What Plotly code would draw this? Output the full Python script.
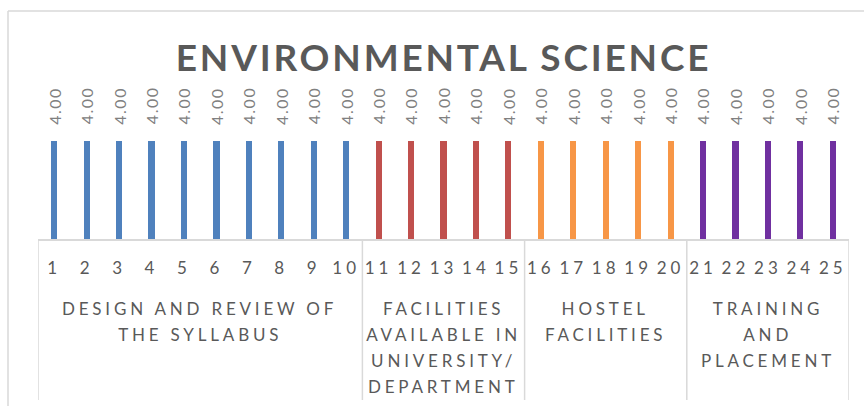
import plotly.graph_objects as go

# ---------------- data ----------------
tick_labels = ["1", "2", "3", "4", "5", "6", "7", "8", "9", "10",
               "11", "12", "13", "14", "15", "16", "17", "18", "19", "20",
               "21", "22", "23", "24", "25"]
values = [4.00, 4.00, 4.00, 4.00, 4.00, 4.00, 4.00, 4.00, 4.00, 4.00,
          4.00, 4.00, 4.00, 4.00, 4.00, 4.00, 4.00, 4.00, 4.00, 4.00,
          4.00, 4.00, 4.00, 4.00, 4.00]
group_names = [
    ["DESIGN AND REVIEW OF", "THE SYLLABUS"],
    ["FACILITIES", "AVAILABLE IN", "UNIVERSITY/", "DEPARTMENT"],
    ["HOSTEL", "FACILITIES"],
    ["TRAINING", "AND", "PLACEMENT"],
]
group_sizes = [10, 5, 5, 5]
group_colors = ["#4F81BD", "#C0504D", "#F79646", "#7030A0"]
title_text = "ENVIRONMENTAL SCIENCE"

# ---------------- styling ----------------
FONT = "Lato, 'Open Sans', sans-serif"
GRID = "#D9D9D9"
W, H = 864, 406
ML, MR, MT, MB = 38, 15, 116, 167
plot_h = H - MT - MB

x_pos = list(range(1, len(values) + 1))
bar_colors = []
for c, n in zip(group_colors, group_sizes):
    bar_colors += [c] * n

fig = go.Figure()
fig.add_trace(go.Bar(
    x=x_pos, y=values, width=0.19,
    marker=dict(color=bar_colors, line=dict(width=0)),
    hoverinfo="skip", showlegend=False,
))

annotations = []
# value labels (rotated)
for xi, v in zip(x_pos, values):
    annotations.append(dict(
        x=xi, y=v, xref="x", yref="y", text=f"{v:.2f}", textangle=-90,
        showarrow=False, xanchor="center", yanchor="bottom", yshift=17,
        font=dict(family=FONT, size=16, color="#808080"),
    ))

# group labels and separators
shapes = []
start = 0.5
line_y = [308, 334, 360, 386]
for names, n in zip(group_names, group_sizes):
    center = start + n / 2
    for k, line in enumerate(names):
        annotations.append(dict(
            x=center, y=0, xref="x", yref="paper", text=line,
            showarrow=False, xanchor="center", yanchor="middle",
            yshift=-(line_y[k] - (H - MB)),
            font=dict(family=FONT, size=17, color="#595959"),
        ))
    shapes.append(dict(type="line", xref="x", yref="paper",
                       x0=start, x1=start, y0=0, y1=-(400 - (H - MB)) / plot_h,
                       line=dict(color=GRID, width=1.5)))
    start += n
shapes.append(dict(type="line", xref="x", yref="paper",
                   x0=start, x1=start, y0=0, y1=-(400 - (H - MB)) / plot_h,
                   line=dict(color=GRID, width=1.5)))

# outer chart frame (left and top edges visible)
pw = W - ML - MR
fx0 = (8 - ML) / pw
fy1 = 1 + (MT - 11) / plot_h
shapes.append(dict(type="line", xref="paper", yref="paper",
                   x0=fx0, x1=fx0, y0=fy1, y1=-(H + 10 - MT) / plot_h,
                   line=dict(color=GRID, width=1.5)))
shapes.append(dict(type="line", xref="paper", yref="paper",
                   x0=fx0, x1=(W + 10 - ML) / pw, y0=fy1, y1=fy1,
                   line=dict(color=GRID, width=1.5)))

fig.update_layout(
    width=W, height=H,
    margin=dict(l=ML, r=MR, t=MT, b=MB),
    paper_bgcolor="white", plot_bgcolor="white",
    title=dict(text=f"<b>{title_text}</b>", x=0.5, xref="paper",
               y=1 - 58 / H, yref="container", yanchor="middle", xanchor="center",
               font=dict(family=FONT, size=37, color="#595959")),
    xaxis=dict(range=[0.5, len(values) + 0.5], tickvals=x_pos, ticktext=tick_labels,
               showgrid=False, zeroline=False, showline=True, linecolor=GRID,
               linewidth=1.5, ticks="", ticklabelstandoff=13,
               tickfont=dict(family=FONT, size=17, color="#595959")),
    yaxis=dict(range=[0, 5], visible=False),
    annotations=annotations, shapes=shapes,
    bargap=0,
)

post = """
document.body.style.margin = '0';
document.body.style.overflow = 'hidden';
var gd = document.getElementById('{plot_id}');
function spaceText(){
  gd.querySelectorAll('.gtitle').forEach(function(t){ t.style.letterSpacing='2.8px'; });
  gd.querySelectorAll('.xtick text').forEach(function(t){ t.style.letterSpacing='4px'; });
  gd.querySelectorAll('.annotation-text').forEach(function(t){
    if (/^[0-9]+\\.[0-9]+$/.test(t.textContent.trim())) { t.style.letterSpacing='1.5px'; }
    else { t.style.letterSpacing='3.8px'; }
  });
}
spaceText();
if (gd.on) { gd.on('plotly_afterplot', spaceText); }
"""

fig.write_html("out.html", post_script=post, config={"displayModeBar": False})
